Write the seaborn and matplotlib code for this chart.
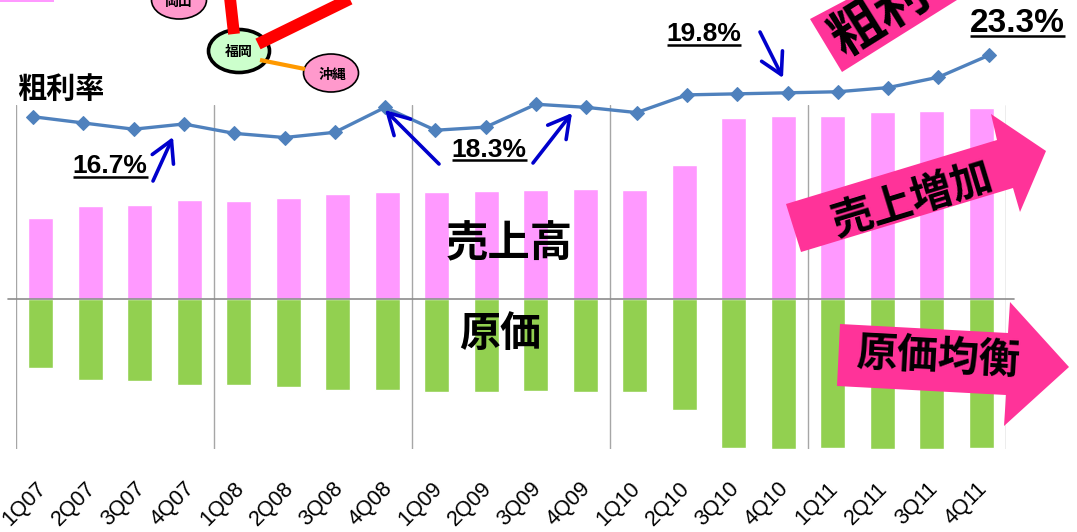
import matplotlib
matplotlib.use("Agg")
import matplotlib.pyplot as plt
from matplotlib.patches import Polygon, Ellipse
from matplotlib.transforms import ScaledTranslation
import seaborn as sns

quarters = ["1Q07","2Q07","3Q07","4Q07","1Q08","2Q08","3Q08","4Q08","1Q09","2Q09",
            "3Q09","4Q09","1Q10","2Q10","3Q10","4Q10","1Q11","2Q11","3Q11","4Q11"]
sales = [81,93,94,99,98,101,105,107,107,108,109,110,109,134,181,183,183,187,188,191]
costs = [-69,-81,-82,-86,-86,-88,-91,-91,-93,-93,-92,-93,-93,-111,-149,-150,-149,-150,-150,-149]
margin = [17.4,16.8,16.2,16.7,15.8,15.4,15.9,18.3,16.1,16.4,18.6,18.3,17.8,19.5,19.6,19.7,19.8,20.2,21.2,23.3]
dividers = [-0.5,3.5,7.5,11.5,15.5,19.5]

W, H = 1077, 532
sns.set_theme(style="white")
plt.rcParams['font.family'] = ['Liberation Sans', 'Noto Sans CJK JP', 'DejaVu Sans']
CJK = ['Noto Sans CJK JP', 'DejaVu Sans']

fig = plt.figure(figsize=(W/100, H/100), dpi=100, facecolor="white")
L, R, T, B = 16, 1006, 105, 449
ax = fig.add_axes([L/W, 1-B/H, (R-L)/W, (B-T)/H])
sns.barplot(x=quarters, y=sales, color="#FF99FF", saturation=1, width=0.51, ax=ax)
sns.barplot(x=quarters, y=costs, color="#92D050", saturation=1, width=0.51, ax=ax)
ax.set_xlim(-0.5, 19.5)
ax.set_ylim(-150, 194)
ax.set_yticks([])
ax.set_ylabel("")
for s in ax.spines.values():
    s.set_visible(False)
ax.tick_params(axis="x", length=0, pad=21)
ax.set_xticks(range(len(quarters)))
ax.set_xticklabels(quarters, rotation=45, ha="right", rotation_mode="anchor", fontsize=15.5, color="black")
shift = ScaledTranslation(-5/100, 0, fig.dpi_scale_trans)
for t in ax.get_xticklabels():
    t.set_transform(t.get_transform() + shift)
for d in dividers:
    ax.axvline(d, color="#A6A6A6", lw=1, zorder=0.5)

ax2 = fig.add_axes(ax.get_position(), facecolor="none")
sns.lineplot(x=list(range(len(quarters))), y=margin, color="#4F81BD", lw=2.4, marker="D",
             markersize=7, markeredgecolor="#4F81BD", ax=ax2, clip_on=False)
ax2.set_xlim((L-33)/50.3, (R-33)/50.3)
ax2.set_ylim(16.7-325/10.4, 16.7+19/10.4)
ax2.set_xticks([])
ax2.set_yticks([])
ax2.set_ylabel("")
for s in ax2.spines.values():
    s.set_visible(False)

# overlay in pixel coordinates for the drawn annotations
ov = fig.add_axes([0, 0, 1, 1], facecolor="none")
ov.set_xlim(0, W); ov.set_ylim(H, 0); ov.axis("off")
ov.plot([8, 1014], [299, 299], color="#8C8C8C", lw=1.2)

ov.add_patch(Polygon([(0,0),(54,0),(54,2),(0,2)], color="#FF99FF", lw=0))
ov.plot([230,234],[-2,34], color="#FF0000", lw=8.5, solid_capstyle="butt")
ov.plot([258,358],[44,-5], color="#FF0000", lw=8.5, solid_capstyle="butt")
ov.plot([260,305],[60,69], color="#FF9900", lw=3, solid_capstyle="butt")
ov.add_patch(Ellipse((179,0), 55, 38, fc="#FF99CC", ec="black", lw=1.2))
ov.add_patch(Ellipse((331,73), 55, 38, fc="#FF99CC", ec="black", lw=1.2))
ov.add_patch(Ellipse((239,51), 61, 43, fc="#CCFFCC", ec="black", lw=2.6))
ov.text(239,52,"福岡",family=CJK,weight="bold",fontsize=10,ha="center",va="center",color="black")
ov.text(332,75,"沖縄",family=CJK,weight="bold",fontsize=10,ha="center",va="center",color="black")
ov.text(179,2,"岡山",family=CJK,weight="bold",fontsize=10,ha="center",va="center",color="black")

pink = "#FF3399"
ov.add_patch(Polygon([(786,204),(997,140),(991,114),(1046,151),(1020,212),(1013,188),(801,252)], fc=pink, ec="none"))
ov.add_patch(Polygon([(840,324),(1008,333),(1010,302),(1069,367),(1004,426),(1006,395),(837,386)], fc=pink, ec="none"))
ov.add_patch(Polygon([(810,19),(842,72),(957,0),(846,0)], fc=pink, ec="none"))

def cjk(x, y, s, size, rot=0):
    ov.text(x, y, s, family=CJK, weight="bold", fontsize=size, rotation=rot, ha="center", va="center",
            color="black", rotation_mode="anchor", clip_on=True)

cjk(61, 89, "粗利率", 21)
cjk(509, 244, "売上高", 30.5)
cjk(500, 334, "原価", 29.5)
cjk(913, 200, "売上増加", 30, 17)
cjk(938, 358, "原価均衡", 29.5, -3)
cjk(880, 17, "粗利", 38, 32)

def pct(xc, yc, s, size, x0, x1, yl):
    ov.text(xc, yc, s, weight="bold", fontsize=size, ha="center", va="center", color="black")
    ov.plot([x0, x1], [yl, yl], color="black", lw=1.8, solid_capstyle="butt")

pct(110, 166, "16.7%", 19, 73, 148, 177)
pct(489, 150, "18.3%", 19, 452, 527, 160)
pct(704, 34, "19.8%", 19, 667, 741, 45)
pct(1017, 23, "23.3%", 24, 970, 1065, 36)

for (x0,y0,x1,y1) in [(153,181,173,137),(439,164,385,110),(533,163,572,113),(760,32,783,78)]:
    ov.annotate("", xy=(x1,y1), xytext=(x0,y0),
                arrowprops=dict(arrowstyle="->,head_length=0.75,head_width=0.42", color="#0000CC",
                                lw=2.6, shrinkA=0, shrinkB=0, mutation_scale=20))

fig.savefig("out.png", dpi=100, facecolor="white")
